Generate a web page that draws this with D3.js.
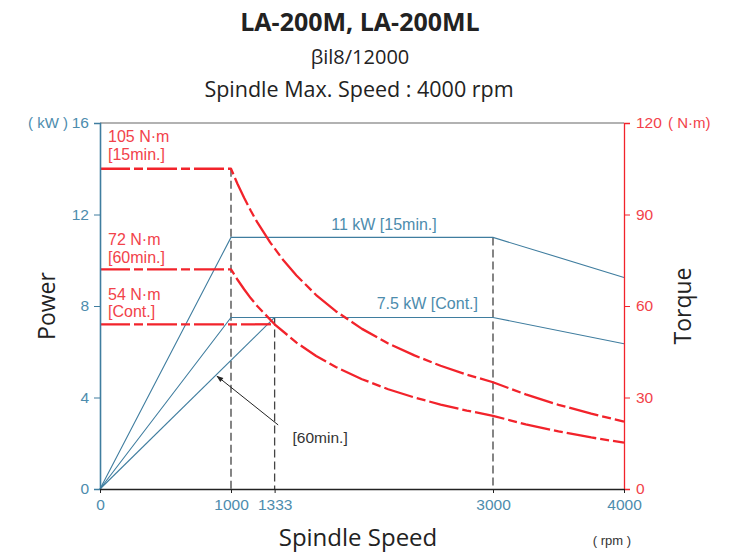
<!DOCTYPE html>
<html lang="en">
  <head>
    <meta charset="utf-8">
    <title>LA-200M power / torque</title>
    <script src="https://d3js.org/d3.v7.min.js"></script>
    <style>
      body { margin: 0; background: #fff; }
    </style>
  </head>
  <body>
    <div id="container"></div>
    <script>
      width = 740;
      height = 553;
      margin = ({top: 123, right: 116, bottom: 64, left: 100});

      blue = "#3f7d9f";
      blueText = "#4d8cad";
      red = "#f2232b";
      redText = "#f2424a";

      // axis ticks
      speedTicks = [0, 1000, 1333, 3000, 4000];
      powerTicks = [0, 4, 8, 12, 16];
      torqueTicks = [0, 30, 60, 90, 120];

      // power curves (kW)
      power15Speed = [0, 1000, 3000, 4000];
      power15 = [0, 11, 11, 9.25];
      powerContSpeed = [0, 1000, 3000, 4000];
      powerCont = [0, 7.5, 7.5, 6.35];
      power60Speed = [0, 1333];
      power60 = [0, 7.5];

      // torque curves (N·m)
      torque15Speed = [0, 1000, 1050, 1100, 1150, 1200, 1300, 1400, 1500, 1650, 1800, 2000, 2200, 2400, 2600, 2800, 3000, 3250, 3500, 3750, 4000];
      torque15 = [105, 105, 100, 95.5, 91.3, 87.5, 80.8, 75, 70, 63.6, 58.3, 52.5, 47.7, 43.8, 40.4, 37.5, 35, 31, 27.6, 24.7, 22.1];
      torque60Speed = [0, 1000, 1050, 1100, 1150, 1200, 1333, 1500, 1650, 1800, 2000, 2200, 2400, 2600, 2800, 3000, 3250, 3500, 3750, 4000];
      torque60 = [72, 72, 68.6, 65.5, 62.6, 60, 54, 48, 43.6, 40, 36, 32.7, 30, 27.7, 25.7, 24, 21.2, 18.9, 16.9, 15.2];
      torqueContSpeed = [0, 1333];
      torqueCont = [54, 54];

      x = d3.scaleLinear().domain([0, 4000]).range([margin.left, width - margin.right]);
      yP = d3.scaleLinear().domain([0, 16]).range([height - margin.bottom, margin.top]);
      yT = d3.scaleLinear().domain([0, 120]).range([height - margin.bottom, margin.top]);

      zip = (xs, ys) => xs.map((s, i) => [s, ys[i]]);

      chart = (function() {
        const svg = d3.create("svg")
            .attr("width", width)
            .attr("height", height)
            .attr("viewBox", [0, 0, width, height])
            .style("font-family", "'Liberation Sans', Arial, sans-serif");

        svg.append("defs").append("marker")
            .attr("id", "arrow")
            .attr("viewBox", "0 0 10 10")
            .attr("refX", 9).attr("refY", 5)
            .attr("markerUnits", "userSpaceOnUse")
            .attr("markerWidth", 11).attr("markerHeight", 7)
            .attr("orient", "auto")
            .append("path")
            .attr("d", "M0,1.5L10,5L0,8.5Z")
            .attr("fill", "#222");

        // titles
        const title = svg.append("g")
            .attr("text-anchor", "middle")
            .attr("fill", "#222")
            .style("font-family", "'Open Sans', 'Noto Sans', sans-serif");
        title.append("text").attr("x", 360).attr("y", 31)
            .attr("font-size", 25).attr("font-weight", "bold").text("LA-200M, LA-200ML");
        title.append("text").attr("x", 360).attr("y", 64)
            .attr("font-size", 20).text("βil8/12000");
        title.append("text").attr("x", 359).attr("y", 97)
            .attr("font-size", 21.5).text("Spindle Max. Speed : 4000 rpm");

        // top frame line
        svg.append("line")
            .attr("x1", x(0)).attr("x2", x(4000))
            .attr("y1", yP(16)).attr("y2", yP(16))
            .attr("stroke", "#666").attr("stroke-width", 1.2);

        // vertical guides
        const guides = [[1000, yT(105)], [1333, yP(7.5)], [3000, yP(11)]];
        svg.append("g")
            .attr("stroke", "#444")
            .attr("stroke-width", 1.3)
            .attr("stroke-dasharray", "8,4")
          .selectAll("line")
          .data(guides)
          .join("line")
            .attr("x1", d => x(d[0])).attr("x2", d => x(d[0]))
            .attr("y1", d => d[1]).attr("y2", yP(0));

        // power lines
        const pLine = d3.line().x(d => x(d[0])).y(d => yP(d[1]));
        svg.append("g")
            .attr("fill", "none")
            .attr("stroke", blue)
            .attr("stroke-width", 1.1)
          .selectAll("path")
          .data([zip(power15Speed, power15), zip(powerContSpeed, powerCont), zip(power60Speed, power60)])
          .join("path")
            .attr("d", pLine);

        // torque lines
        const tLine = d3.line().x(d => x(d[0])).y(d => yT(d[1]));
        svg.append("g")
            .attr("fill", "none")
            .attr("stroke", red)
            .attr("stroke-width", 2.3)
            .attr("stroke-linejoin", "round")
            .attr("stroke-dasharray", "30,4,9,4")
          .selectAll("path")
          .data([zip(torque15Speed, torque15), zip(torque60Speed, torque60), zip(torqueContSpeed, torqueCont)])
          .join("path")
            .attr("d", tLine);

        const tickFont = g => g.selectAll(".tick text").attr("font-size", 15.5)
            .style("font-family", "'Liberation Sans', Arial, sans-serif");

        // left axis (power)
        svg.append("g")
            .attr("transform", `translate(${x(0)},0)`)
            .call(d3.axisLeft(yP).tickValues(powerTicks).tickSize(6).tickPadding(5))
            .call(g => g.select(".domain").attr("stroke", blue).attr("stroke-width", 1.6))
            .call(g => g.selectAll(".tick line").attr("stroke", blue))
            .call(tickFont)
            .call(g => g.selectAll(".tick text").attr("fill", blueText));

        // right axis (torque)
        svg.append("g")
            .attr("transform", `translate(${x(4000)},0)`)
            .call(d3.axisRight(yT).tickValues(torqueTicks).tickSize(6).tickPadding(6))
            .call(g => g.select(".domain").attr("stroke", red).attr("stroke-width", 1.3))
            .call(g => g.selectAll(".tick line").attr("stroke", red))
            .call(tickFont)
            .call(g => g.selectAll(".tick text").attr("fill", redText));

        // bottom axis (speed)
        svg.append("g")
            .attr("transform", `translate(0,${yP(0)})`)
            .call(d3.axisBottom(x).tickValues(speedTicks).tickFormat(d3.format("d")).tickSize(4).tickPadding(6).tickSizeOuter(0))
            .call(g => g.select(".domain").attr("stroke", "#222").attr("stroke-width", 1.3))
            .call(g => g.selectAll(".tick line").attr("stroke", "#222"))
            .call(tickFont)
            .call(g => g.selectAll(".tick text").attr("fill", blueText));

        // unit labels
        svg.append("text").attr("x", 68).attr("y", yP(16) + 5)
            .attr("text-anchor", "end").attr("fill", blueText).attr("font-size", 15).text("( kW )");
        svg.append("text").attr("x", 668).attr("y", yT(120) + 5)
            .attr("fill", redText).attr("font-size", 15).text("( N·m)");
        svg.append("text").attr("x", 631).attr("y", 545)
            .attr("text-anchor", "end").attr("fill", "#333").attr("font-size", 13).text("( rpm )");

        // axis titles
        const axTitle = svg.append("g")
            .attr("fill", "#222")
            .attr("text-anchor", "middle")
            .attr("font-size", 23)
            .style("font-family", "'Open Sans', 'Noto Sans', sans-serif");
        axTitle.append("text")
            .attr("transform", `translate(55,${yP(8)}) rotate(-90)`).text("Power");
        axTitle.append("text")
            .attr("transform", `translate(691,${yP(8)}) rotate(-90)`).text("Torque");
        axTitle.append("text")
            .attr("x", 358).attr("y", 546).attr("font-size", 24).text("Spindle Speed");

        // curve labels
        const redLabels = [
          ["105 N·m", 105, 27], ["[15min.]", 105, 9],
          ["72 N·m", 72, 24], ["[60min.]", 72, 6],
          ["54 N·m", 54, 24], ["[Cont.]", 54, 7]
        ];
        svg.append("g")
            .attr("fill", redText)
            .attr("font-size", 16)
          .selectAll("text")
          .data(redLabels)
          .join("text")
            .attr("x", x(0) + 8)
            .attr("y", d => yT(d[1]) - d[2])
            .text(d => d[0]);

        svg.append("text")
            .attr("x", (x(1000) + x(3000)) / 2 + 22).attr("y", yP(11) - 7)
            .attr("text-anchor", "middle").attr("fill", blueText).attr("font-size", 16)
            .text("11 kW [15min.]");
        svg.append("text")
            .attr("x", x(3000) - 15).attr("y", yP(7.5) - 8)
            .attr("text-anchor", "end").attr("fill", blueText).attr("font-size", 16)
            .text("7.5 kW [Cont.]");

        // [60min.] pointer
        svg.append("line")
            .attr("x1", x(1360)).attr("y1", yP(2.8))
            .attr("x2", x(885) + 1).attr("y2", yP(4.98) + 1)
            .attr("stroke", "#222").attr("stroke-width", 1)
            .attr("marker-end", "url(#arrow)");
        svg.append("text")
            .attr("x", x(1470)).attr("y", yP(2.8) + 18)
            .attr("fill", "#333").attr("font-size", 15.5)
            .text("[60min.]");

        return svg.node();
      })();

      d3.select("#container").append(() => chart);
    </script>
  </body>
</html>
